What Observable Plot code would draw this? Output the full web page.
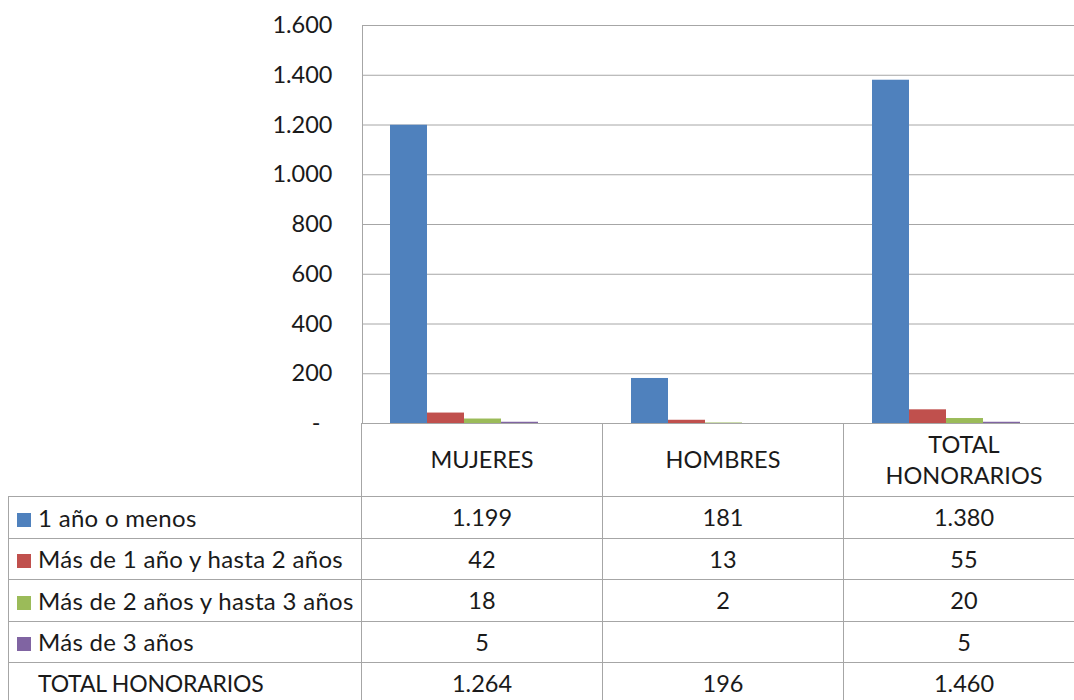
<!DOCTYPE html>
<html>
<head>
<meta charset="utf-8">
<script src="https://cdn.jsdelivr.net/npm/d3@7"></script>
<script src="https://cdn.jsdelivr.net/npm/@observablehq/plot@0.6"></script>
<style>
  html, body { margin: 0; padding: 0; background: #fff; }
  #wrap { position: relative; width: 1074px; height: 700px; overflow: hidden; background: #fff; }
  #chart { position: absolute; left: 0; top: 0; width: 1085px; }
  #chart svg { max-width: none !important; width: 1085px !important; height: 424px !important; overflow: visible; }
  #tbl { position: absolute; left: 8px; top: 423px; width: 1077px; border-collapse: collapse; table-layout: fixed;
         font-family: Lato, "Noto Sans", sans-serif; font-size: 23.5px; color: #1a1a1a; }
  #tbl td { border: 1px solid #a6a6a6; padding: 0; text-align: center; white-space: pre-line; }
  #tbl tr.head td { height: 73px; line-height: 31px; border-top: none; }
  #tbl tr.head td.blank { border: none; border-bottom: 1px solid #a6a6a6; }
  #tbl tr.row td { height: 40.5px; }
  #tbl td.lab { text-align: left; padding-left: 8px; white-space: nowrap; font-size: 24px; letter-spacing: 0.3px; }
  #tbl td.lab.upper { font-size: 23px; letter-spacing: -0.2px; }
  .key { display: inline-block; width: 14px; height: 14px; margin-right: 7px; vertical-align: 0px; }
</style>
</head>
<body>
<div id="wrap"><div id="chart"></div></div>
<script>
const categories = ["MUJERES", "HOMBRES", "TOTAL HONORARIOS"];
const headerLabels = ["MUJERES", "HOMBRES", "TOTAL\nHONORARIOS"];
const series = ["1 año o menos", "Más de 1 año y hasta 2 años", "Más de 2 años y hasta 3 años", "Más de 3 años", "TOTAL HONORARIOS"];
const valsUnoOMenos = [1199, 181, 1380];
const valsUnoADos = [42, 13, 55];
const valsDosATres = [18, 2, 20];
const valsMasDeTres = [5, null, 5];
const valsTotal = [1264, 196, 1460];
const seriesColors = ["#4F81BD", "#C0504D", "#9BBB59", "#8064A2", "none"];
const yTicks = [0, 200, 400, 600, 800, 1000, 1200, 1400, 1600];

const seriesValues = [valsUnoOMenos, valsUnoADos, valsDosATres, valsMasDeTres, valsTotal];
const data = [];
series.forEach((s, i) => categories.forEach((c, j) => {
  const v = seriesValues[i][j];
  if (v != null) data.push({cat: c, series: s, value: v});
}));

const loc = d3.formatLocale({decimal: ",", thousands: ".", grouping: [3], currency: ["", ""]});
const fmt = loc.format(",");
const tickFmt = d => d === 0 ? "-\u00a0\u00a0" : fmt(d);

const grid = "#a6a6a6";
const chart = Plot.plot({
  width: 1085, height: 424,
  marginTop: 25, marginBottom: 1, marginLeft: 361, marginRight: 0,
  style: {fontFamily: "Lato, 'Noto Sans', sans-serif", fontSize: "23.5px", color: "#1a1a1a", background: "#fff", overflow: "visible"},
  fx: {domain: categories, padding: 0, axis: null, label: null},
  x: {domain: series, paddingInner: 0, paddingOuter: 28 / 37, align: 0.5, axis: null, label: null},
  y: {domain: [0, 1600], axis: null, label: null},
  color: {domain: series, range: seriesColors},
  marks: [
    Plot.gridY(yTicks, {stroke: grid, strokeOpacity: 1, strokeWidth: 1}),
    Plot.frame({anchor: "left", stroke: grid, strokeOpacity: 1, facetAnchor: "left"}),
    Plot.axisY(yTicks, {tickSize: 0, tickPadding: 30, tickFormat: tickFmt, fontSize: 23.5, label: null}),
    Plot.barY(data, {fx: "cat", x: "series", y: "value", fill: "series", inset: 0})
  ]
});
document.getElementById("chart").appendChild(chart);

// Data table below the chart
const tbl = document.createElement("table");
tbl.id = "tbl";
const colW = [353, 241, 241, 241];
const cg = document.createElement("colgroup");
colW.forEach(w => { const c = document.createElement("col"); c.style.width = w + "px"; cg.appendChild(c); });
tbl.appendChild(cg);
const head = document.createElement("tr");
head.className = "head";
const blank = document.createElement("td"); blank.className = "blank"; head.appendChild(blank);
headerLabels.forEach(h => { const td = document.createElement("td"); td.textContent = h; head.appendChild(td); });
tbl.appendChild(head);
series.forEach((s, i) => {
  const tr = document.createElement("tr"); tr.className = "row";
  const lab = document.createElement("td"); lab.className = "lab" + (s === s.toUpperCase() ? " upper" : "");
  const key = document.createElement("span"); key.className = "key";
  key.style.background = seriesColors[i] === "none" ? "transparent" : seriesColors[i];
  lab.appendChild(key);
  lab.appendChild(document.createTextNode(s));
  tr.appendChild(lab);
  seriesValues[i].forEach(v => { const td = document.createElement("td"); td.textContent = v == null ? "" : fmt(v); tr.appendChild(td); });
  tbl.appendChild(tr);
});
document.getElementById("wrap").appendChild(tbl);
</script>
</body>
</html>
